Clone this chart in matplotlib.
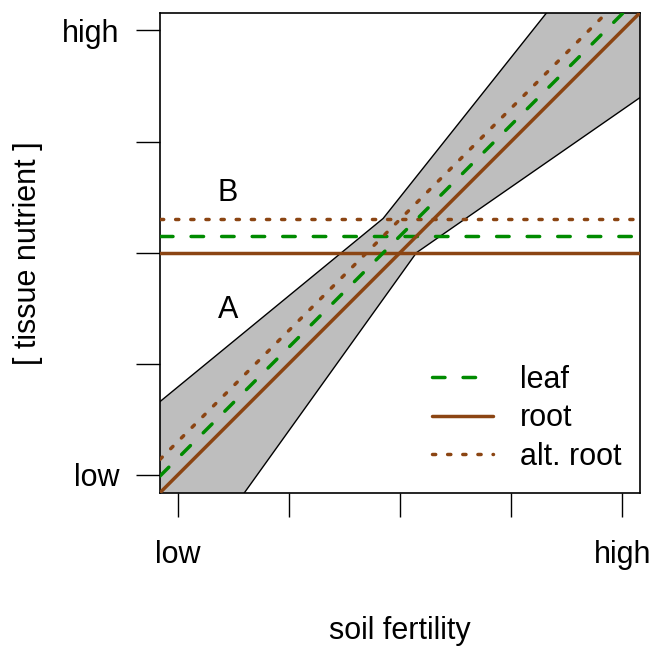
import matplotlib
matplotlib.use("Agg")
import matplotlib.pyplot as plt

plt.rcParams['font.family'] = ['Liberation Sans', 'DejaVu Sans']
plt.rcParams['lines.scale_dashes'] = False

# axis range and tick marks (relative scale 0..1)
lim = [-0.04, 1.04]
ticks = [0, 0.25, 0.5, 0.75, 1]
tick_labels = ['low', '', '', '', 'high']

# sloped responses, value at each end of the fertility axis
fert_ends = [-0.04, 1.04]
root_slope = [-0.04, 1.04]
leaf_slope = [-0.0025, 1.0775]
alt_root_slope = [0.035, 1.115]

# flat responses
root_flat = [0.5, 0.5]
leaf_flat = [0.5375, 0.5375]
alt_root_flat = [0.575, 0.575]

# edges of the shaded band
upper_x = [-0.04, 0.462, 0.83]
upper_y = [0.165, 0.577, 1.04]
lower_x = [0.15, 0.537, 1.04]
lower_y = [-0.04, 0.50, 0.849]

brown = '#8B4513'
green = '#008B00'
lw = 2.5

fig = plt.figure(figsize=(6.54, 6.46), dpi=100)
ax = fig.add_axes([160/654, 1 - 492.7/646, 480/654, 480/646])

# shaded band between the two edges
band_x = upper_x + [1.04] + lower_x[::-1] + [-0.04]
band_y = upper_y + [1.04] + lower_y[::-1] + [-0.04]
ax.fill(band_x, band_y, color='#BEBEBE', lw=0, zorder=1)
ax.plot(upper_x, upper_y, color='black', lw=1.0, zorder=2)
ax.plot(lower_x, lower_y, color='black', lw=1.0, zorder=2)

dash = (0, (9, 13))
dot = (0, (2.3, 8.6))

ax.plot(fert_ends, root_flat, color=brown, lw=lw, solid_capstyle='round', zorder=3)
ax.plot(fert_ends, leaf_flat, color=green, lw=lw, ls=dash, dash_capstyle='round', zorder=3)
ax.plot(fert_ends, alt_root_flat, color=brown, lw=lw, ls=dot, dash_capstyle='round', zorder=3)

ax.plot(fert_ends, leaf_slope, color=green, lw=lw, ls=dash, dash_capstyle='round',
        zorder=3, label='leaf')
ax.plot(fert_ends, root_slope, color=brown, lw=lw, solid_capstyle='round',
        zorder=3, label='root')
ax.plot(fert_ends, alt_root_slope, color=brown, lw=lw, ls=dot, dash_capstyle='round',
        zorder=3, label='alt. root')

ax.text(0.113, 0.37, 'A', fontsize=22, ha='center', va='center')
ax.text(0.112, 0.635, 'B', fontsize=22, ha='center', va='center')

ax.set_xlim(lim)
ax.set_ylim(lim)
ax.set_xticks(ticks)
ax.set_xticklabels(tick_labels)
ax.set_yticks(ticks)
ax.set_yticklabels(tick_labels)
ax.tick_params(axis='both', length=17, width=1.0, labelsize=22)
ax.tick_params(axis='x', pad=17)
ax.tick_params(axis='y', pad=12)
for s in ax.spines.values():
    s.set_linewidth(1.2)

ax.set_xlabel('soil fertility', fontsize=22, labelpad=33)
ax.set_ylabel('[ tissue nutrient ]', fontsize=22, labelpad=14)

ax.legend(loc='lower right', bbox_to_anchor=(1.0, 0.005), frameon=False, fontsize=22,
          handlelength=2.0, handletextpad=0.9, labelspacing=0.285, borderaxespad=0.2)

fig.savefig('out.png', dpi=100)
